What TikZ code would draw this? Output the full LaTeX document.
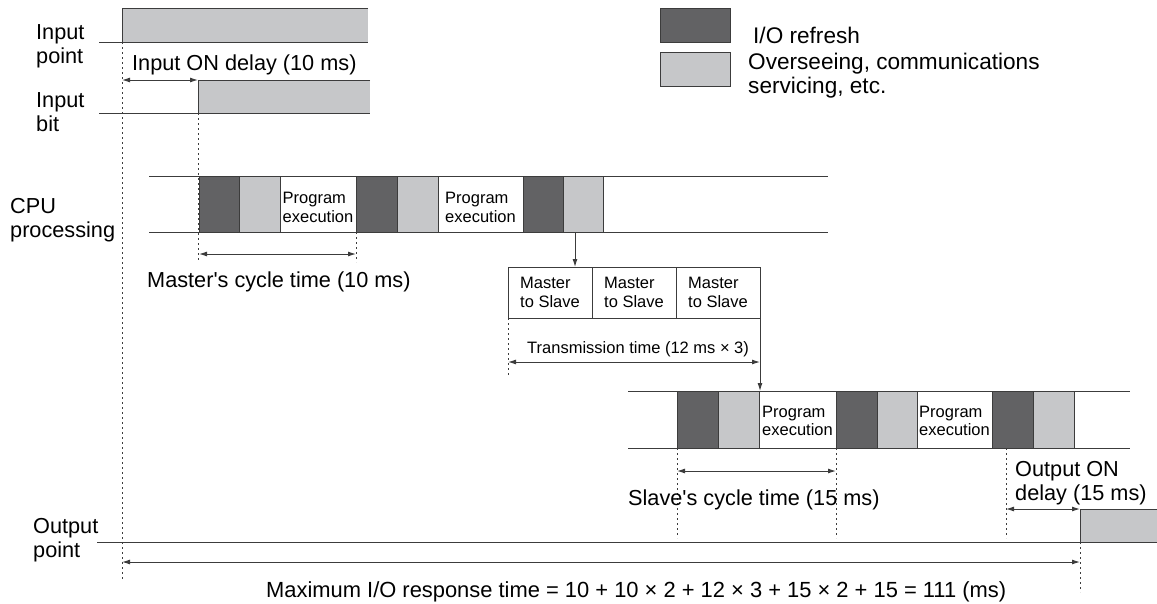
\documentclass[tikz,border=0pt]{standalone}
\usepackage{fontspec}
\setmainfont{Liberation Sans}
\usetikzlibrary{arrows.meta}
\definecolor{iodark}{HTML}{626264}
\definecolor{iolight}{HTML}{C6C7C9}
\definecolor{wirecol}{HTML}{3C3C3C}
\tikzset{
  txt/.style={font=\fontsize{21.7}{24}\selectfont,align=left,inner sep=0pt},
  keytxt/.style={font=\fontsize{22.6}{24}\selectfont,align=left,inner sep=0pt},
  smalltxt/.style={font=\fontsize{16.5}{18.5}\selectfont,align=left,inner sep=0pt},
  wire/.style={draw=wirecol,line width=1pt},
  vdots/.style={draw=wirecol,line width=0.9pt,dash pattern=on 2pt off 3pt},
  arr/.style={wire,-{Latex[length=8pt,width=5pt]}},
  dim/.style={wire,{Latex[length=8pt,width=5pt]}-{Latex[length=8pt,width=5pt]}},
  blk/.style={wire,inner sep=0pt,outer sep=0pt,anchor=north west,minimum height=56pt},
}
\begin{document}
\begin{tikzpicture}[x=1pt,y=-1pt]
	\useasboundingbox (0,0) rectangle (1157,603);
	\node[blk,fill=iodark,minimum width=70pt,minimum height=34pt] (keyio) at (660,8) {};
	\node[blk,fill=iolight,minimum width=70pt,minimum height=34pt] (keyos) at (660,52) {};
	\node[keytxt,anchor=base west] (keyiotxt) at (753,43) {I/O refresh};
	\node[keytxt,anchor=north west] (keyostxt) at (748,53) {Overseeing, communications\\servicing, etc.};
	\coordinate (iprise) at (122,42);
	\coordinate (ibrise) at (198,80);
	\coordinate (oprise) at (1080,509);
	\coordinate (opdly) at (1006,448);
	\coordinate (cpuout) at (575,232);
	\draw[vdots] (iprise) -- (122,580);
	\draw[vdots] (198,113) -- (198,262);
	\fill[iolight] (122,8) rectangle (368,42);
	\draw[wire] (99,42) -- (368,42) (368,8) -- (122,8) -- (iprise);
	\fill[iolight] (ibrise) rectangle (370,113);
	\draw[wire] (99,113) -- (370,113) (370,80) -- (ibrise) -- (198,113);
	\node[txt,anchor=north west] (lip) at (36,24) {Input\\point};
	\node[txt,anchor=north west] (lib) at (36,92) {Input\\bit};
	\node[txt,anchor=base west] (ondly) at (132,70) {Input ON delay (10 ms)};
	\draw[dim] (iprise |- ibrise) -- (ibrise);
	\node[txt,anchor=north west] (lcpu) at (10,198) {CPU\\processing};
	\draw[wire] (149,176) -- (828,176) (149,232) -- (828,232);
	\foreach \n/\a/\w/\c in {m1/199/40/iodark,m2/239/41/iolight,m3/356/41/iodark,m4/397/41/iolight,m5/523/40/iodark,m6/563/40/iolight}
		\node[blk,fill=\c,minimum width=\w pt] (\n) at (\a,176) {};
	\node[smalltxt] (mprog1) at (318,207.5) {Program\\execution};
	\node[smalltxt] (mprog2) at (480.5,207.5) {Program\\execution};
	\draw[vdots] (m3.south west) -- ++(0,30);
	\draw[dim] (m1.south west |- 0,254) -- (m3.south west |- 0,254);
	\node[txt,anchor=base west] (mcyc) at (147,287) {Master\textquotesingle s cycle time (10 ms)};
	\foreach \n/\a in {t1/508,t2/592,t3/676}
		\node[blk,smalltxt,minimum width=84pt,minimum height=51pt] (\n) at (\a,267) {Master\\to Slave};
	\draw[arr] (cpuout) -- (cpuout |- t1.north);
	\draw[vdots] (t1.south west) -- ++(0,59);
	\draw[dim] (t1.south west |- 0,362) -- (t3.south east |- 0,362);
	\node[smalltxt,anchor=base west] (ttime) at (527,353) {Transmission time (12 ms × 3)};
	\draw[wire] (628,391) -- (1130,391) (628,448) -- (1130,448);
	\foreach \n/\a/\w/\c in {s1/677/41/iodark,s2/718/41/iolight,s3/836/41/iodark,s4/877/40/iolight,s5/992/41/iodark,s6/1033/41/iolight}
		\node[blk,fill=\c,minimum width=\w pt,minimum height=57pt] (\n) at (\a,391) {};
	\draw[arr] (t3.south east) -- (t3.south east |- s1.north);
	\node[smalltxt] (sprog1) at (797.5,421) {Program\\execution};
	\node[smalltxt] (sprog2) at (954.5,421) {Program\\execution};
	\draw[vdots] (s1.south west) -- ++(0,90);
	\draw[vdots] (s3.south west) -- ++(0,90);
	\draw[dim] (s1.south west |- 0,471) -- (s3.south west |- 0,471);
	\node[txt,anchor=base west] (scyc) at (628,505) {Slave\textquotesingle s cycle time (15 ms)};
	\draw[vdots] (opdly) -- (1006,538);
	\node[txt,anchor=north west] (odly) at (1015,461) {Output ON\\delay (15 ms)};
	\fill[iolight] (oprise) rectangle (1157,542);
	\draw[wire] (97,542) -- (1157,542) (1157,509) -- (oprise) -- (1080,542);
	\draw[dim] (opdly |- oprise) -- (oprise);
	\node[txt,anchor=north west] (lop) at (33,518) {Output\\point};
	\draw[vdots] (1080,542) -- (1080,592);
	\draw[dim] (iprise |- 0,562) -- (oprise |- 0,562);
	\node[txt,anchor=base west,font=\fontsize{21.9}{24}\selectfont] (maxrt) at (266,597) {Maximum I/O response time = 10 + 10 × 2 + 12 × 3 + 15 × 2 + 15 = 111 (ms)};
\end{tikzpicture}
\end{document}
